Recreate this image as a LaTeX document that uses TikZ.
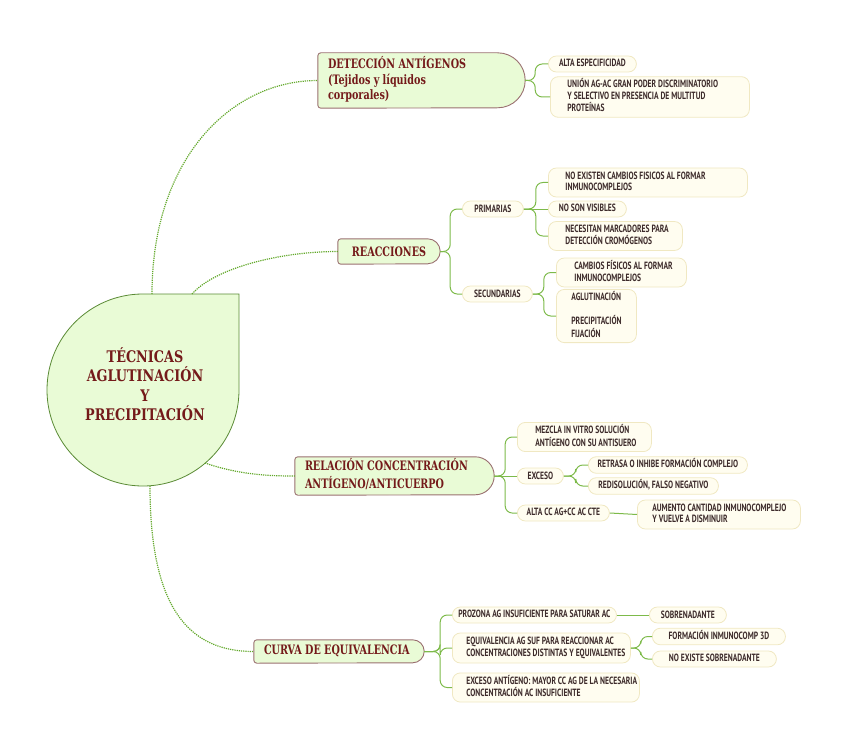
\documentclass[tikz,border=0pt]{standalone}
\usepackage{fontspec}
\usetikzlibrary{backgrounds,calc}
\newfontfamily\hdrfont[FakeStretch=0.74]{DejaVu Serif}
\newfontfamily\rootfont[FakeStretch=0.8]{DejaVu Serif}
\newfontfamily\leaffont[FakeStretch=0.72]{PT Sans}
\definecolor{hdrtext}{HTML}{741A1A}
\definecolor{hdrfill}{HTML}{E9FBD6}
\definecolor{hdrdraw}{HTML}{9A7070}
\definecolor{rootdraw}{HTML}{5A8A35}
\definecolor{leaffill}{HTML}{FFFDF0}
\definecolor{leafdraw}{HTML}{F0E8C2}
\definecolor{leaftext}{HTML}{3D2B2B}
\definecolor{linkcol}{HTML}{7DBA4A}
\definecolor{dotcol}{HTML}{62A82A}
\newcommand\hdrshape[2]{\draw[hdrline] ([xshift=-#2]#1.north east) arc[start angle=90,end angle=-90,radius=#2] -- ([xshift=3pt]#1.south west) arc[start angle=270,end angle=180,radius=3pt] -- ([yshift=-3pt]#1.north west) arc[start angle=180,end angle=90,radius=3pt] -- cycle;}
\newcommand\lns[1]{\spaceskip=0pt\xspaceskip=0pt\begin{tabular}{@{}l@{}}#1\end{tabular}}
\tikzset{
 leaf/.style={draw=leafdraw, fill=leaffill, line width=0.8pt, rounded corners=8pt, text=leaftext, font=\leaffont\bfseries\fontsize{10.5}{11.5}\selectfont, inner xsep=6pt, inner ysep=2pt, minimum height=16pt, anchor=west, align=center},
 mleaf/.style 2 args={leaf, align=left, inner xsep=#1, text width=#2},
 hdr/.style={draw=none, text=hdrtext, font=\hdrfont\bfseries\fontsize{13}{15.5}\selectfont, inner xsep=10pt, inner ysep=0pt, align=left},
 hdrline/.style={draw=hdrdraw, fill=hdrfill, line width=0.9pt},
 link/.style={draw=linkcol, line width=1pt, rounded corners=7pt},
 mainlink/.style={draw=dotcol, line width=1.2pt, dash pattern=on 1.2pt off 1pt},
}
\begin{document}
\begin{tikzpicture}[x=1pt,y=1pt]
\useasboundingbox (0,0) rectangle (848,-754);
% root
\draw[draw=rootdraw, fill=hdrfill, line width=0.8pt] (239,-294) -- (239,-390) arc[start angle=0, end angle=-270, radius=96] -- cycle;
\node[text=hdrtext, font=\rootfont\bfseries\fontsize{16}{19.5}\selectfont, align=center] (root) at (145,-384) {TÉCNICAS\\AGLUTINACIÓN\\Y\\PRECIPITACIÓN};
\coordinate (rA) at (152,-294);
\coordinate (rB) at (192,-294);
\coordinate (rC) at (205,-463);
\coordinate (rD) at (150,-486);
% headers
\node[hdr, minimum width=207pt, minimum height=55pt, text width=187pt] (det) at (421.5,-80.5) {\lns{DETECCIÓN ANTÍGENOS\\(Tejidos y líquidos\\corporales)}};
\node[hdr, minimum width=102pt, minimum height=25pt, align=center] (rea) at (389,-251.5) {REACCIONES};
\node[hdr, minimum width=199pt, minimum height=38pt, text width=179pt, font=\hdrfont\bfseries\fontsize{13}{17}\selectfont] (rel) at (394.5,-476) {\lns{RELACIÓN CONCENTRACIÓN\\ANTÍGENO/ANTICUERPO}};
\node[hdr, minimum width=170pt, minimum height=23pt, text width=150pt] (cur) at (339,-651.5) {\lns{CURVA DE EQUIVALENCIA}};
\begin{scope}[on background layer]
\hdrshape{det}{27.5pt}
\hdrshape{rea}{12.5pt}
\hdrshape{rel}{19pt}
\hdrshape{cur}{11.5pt}
\end{scope}
% main links
\draw[mainlink] (rA) .. controls (152,-160) and (230,-80.5) .. (det.west);
\draw[mainlink] (rB) .. controls (215,-268) and (280,-251.5) .. (rea.west);
\draw[mainlink] (rC) .. controls (240,-475) and (270,-476) .. (rel.west);
\draw[mainlink] (rD) .. controls (150,-610) and (190,-651.5) .. (cur.west);
% deteccion
\node[leaf, minimum width=88pt] (d1) at (548,-64) {\lns{ALTA ESPECIFICIDAD}};
\node[mleaf={17pt}{165pt}, minimum height=40pt] (d2) at (550,-97) {\lns{UNIÓN AG-AC GRAN PODER DISCRIMINATORIO\\Y SELECTIVO EN PRESENCIA DE MULTITUD\\PROTEÍNAS}};
% reacciones
\node[leaf, minimum width=61pt] (prim) at (462,-209) {PRIMARIAS};
\node[leaf, minimum width=70pt] (sec) at (462,-294) {SECUNDARIAS};
\node[mleaf={17pt}{165pt}, minimum height=29pt] (p1) at (548,-182.5) {\lns{NO EXISTEN CAMBIOS FISICOS AL FORMAR\\INMUNOCOMPLEJOS}};
\node[leaf, minimum width=78pt] (p2) at (548,-209) {\lns{NO SON VISIBLES}};
\node[mleaf={17pt}{100pt}, minimum height=29pt] (p3) at (548,-236) {\lns{NECESITAN MARCADORES PARA\\DETECCIÓN CROMÓGENOS}};
\node[mleaf={18pt}{94pt}, minimum height=29pt] (s1) at (556,-272.5) {\lns{CAMBIOS FÍSICOS AL FORMAR\\INMUNOCOMPLEJOS}};
\node[mleaf={15pt}{50pt}, minimum height=52pt] (s2) at (556,-316) {\lns{AGLUTINACIÓN\\ \\PRECIPITACIÓN\\FIJACIÓN}};
% relacion
\node[mleaf={18pt}{98pt}, minimum height=28pt] (r1) at (517,-437) {\lns{MEZCLA IN VITRO SOLUCIÓN\\ANTÍGENO CON SU ANTISUERO}};
\node[leaf, minimum width=46pt] (r2) at (517,-476) {EXCESO};
\node[leaf, minimum width=92pt] (r3) at (517,-513) {\lns{ALTA CC AG+CC AC CTE}};
\node[leaf, minimum width=159pt] (e1) at (588,-465) {\lns{RETRASA O INHIBE FORMACIÓN COMPLEJO}};
\node[leaf, minimum width=130pt] (e2) at (588,-486) {\lns{REDISOLUCIÓN, FALSO NEGATIVO}};
\node[mleaf={15pt}{133pt}, minimum height=29pt] (a1) at (637,-514.5) {\lns{AUMENTO CANTIDAD INMUNOCOMPLEJO\\Y VUELVE A DISMINUIR}};
% curva
\node[leaf, minimum width=160pt] (c1) at (452,-615) {\lns{PROZONA AG INSUFICIENTE PARA SATURAR AC}};
\node[mleaf={14pt}{150pt}, minimum height=30pt] (c2) at (452,-648) {\lns{EQUIVALENCIA AG SUF PARA REACCIONAR AC\\CONCENTRACIONES DISTINTAS Y EQUIVALENTES}};
\node[mleaf={14pt}{159pt}, minimum height=29pt] (c3) at (452,-687.5) {\lns{EXCESO ANTÍGENO: MAYOR CC AG DE LA NECESARIA\\CONCENTRACIÓN AC INSUFICIENTE}};
\node[leaf, minimum width=77pt] (z1) at (649,-615) {SOBRENADANTE};
\node[leaf, minimum width=133pt] (q1) at (652,-636.5) {\lns{FORMACIÓN INMUNOCOMP 3D}};
\node[leaf, minimum width=124pt] (q2) at (652,-659) {\lns{NO EXISTE SOBRENADANTE}};
% links
\draw[link] (det.east) -- ++(10,0) |- (d1.west);
\draw[link] (det.east) -- ++(10,0) |- (d2.west);
\draw[link] (rea.east) -- ++(10,0) |- (prim.west);
\draw[link] (rea.east) -- ++(10,0) |- (sec.west);
\draw[link] (prim.east) -- ++(12,0) |- (p1.west);
\draw[link] (prim.east) -- (p2.west);
\draw[link] (prim.east) -- ++(12,0) |- (p3.west);
\draw[link] (sec.east) -- ++(11,0) |- (s1.west);
\draw[link] (sec.east) -- ++(11,0) |- (s2.west);
\draw[link] (rel.east) -- ++(11,0) |- (r1.west);
\draw[link] (rel.east) -- (r2.west);
\draw[link] (rel.east) -- ++(11,0) |- (r3.west);
\draw[link] (r2.east) -- ++(12,0) |- (e1.west);
\draw[link] (r2.east) -- ++(12,0) |- (e2.west);
\draw[link] (r3.east) -- (a1.west);
\draw[link] (cur.east) -- ++(16,0) |- (c1.west);
\draw[link] (cur.east) -- ++(16,0) |- (c2.west);
\draw[link] (cur.east) -- ++(16,0) |- (c3.west);
\draw[link] (c1.east) -- (z1.west);
\draw[link] (c2.east) -- ++(10,0) |- (q1.west);
\draw[link] (c2.east) -- ++(10,0) |- (q2.west);
\end{tikzpicture}
\end{document}
